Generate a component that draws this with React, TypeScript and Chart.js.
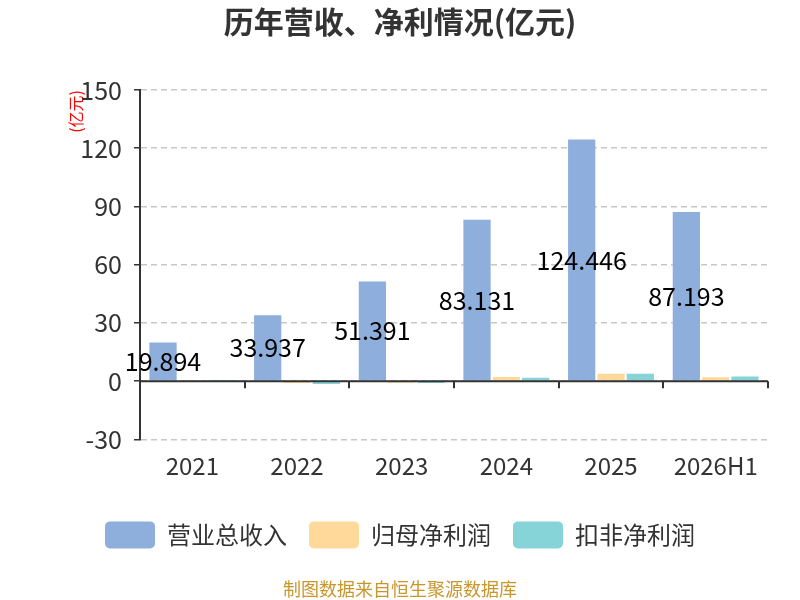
import React, { useEffect, useRef } from 'react';
import { Chart, registerables } from 'chart.js';

Chart.register(...registerables);

const categories = ['2021', '2022', '2023', '2024', '2025', '2026H1'];
const revenue = [19.894, 33.937, 51.391, 83.131, 124.446, 87.193];
const netProfit = [0.2, -1.0, -0.8, 2.2, 3.8, 2.0];
const deductedProfit = [0.6, -1.4, -1.0, 1.7, 3.8, 2.4];
const seriesNames = ['营业总收入', '归母净利润', '扣非净利润'];
const seriesColors = ['#8EAEDB', '#FFD999', '#87D4D8'];
const yMin = -30;
const yMax = 150;
const yStep = 30;

const FONT = '"Noto Sans CJK SC", "Noto Sans", sans-serif';

const zeroAxisPlugin = {
  id: 'zeroAxis',
  afterDatasetsDraw(chart: any) {
    const { ctx, chartArea, scales } = chart;
    const y0 = scales.y.getPixelForValue(0);
    const n = categories.length;
    const band = (chartArea.right - chartArea.left) / n;
    ctx.save();
    ctx.strokeStyle = '#333';
    ctx.lineWidth = 2;
    ctx.beginPath();
    ctx.moveTo(chartArea.left, y0);
    ctx.lineTo(chartArea.right, y0);
    ctx.stroke();
    for (let i = 0; i <= n; i++) {
      const x = Math.round(chartArea.left + band * i);
      ctx.beginPath();
      ctx.moveTo(x, y0);
      ctx.lineTo(x, y0 + 7);
      ctx.stroke();
    }
    ctx.restore();
  },
};

const valueLabelPlugin = {
  id: 'valueLabels',
  afterDatasetsDraw(chart: any) {
    const { ctx } = chart;
    const meta = chart.getDatasetMeta(0);
    ctx.save();
    ctx.fillStyle = '#000';
    ctx.font = `25px ${FONT}`;
    ctx.textAlign = 'center';
    ctx.textBaseline = 'middle';
    meta.data.forEach((el: any, i: number) => {
      const yMid = (el.y + el.base) / 2;
      ctx.fillText(revenue[i].toFixed(3), el.x, yMid);
    });
    ctx.restore();
  },
};

export default function App() {
  const ref = useRef<HTMLCanvasElement>(null);
  useEffect(() => {
    if (!ref.current) return;
    const chart = new Chart(ref.current, {
      type: 'bar',
      data: {
        labels: categories,
        datasets: [
          { label: seriesNames[0], data: revenue, backgroundColor: seriesColors[0] },
          { label: seriesNames[1], data: netProfit, backgroundColor: seriesColors[1] },
          { label: seriesNames[2], data: deductedProfit, backgroundColor: seriesColors[2] },
        ],
      },
      options: {
        animation: false,
        responsive: false,
        maintainAspectRatio: false,
        datasets: { bar: { categoryPercentage: 0.84, barPercentage: 0.93 } },
        layout: { padding: { left: 32, right: 32, top: 0, bottom: 0 } },
        plugins: {
          title: {
            display: true,
            text: '历年营收、净利情况(亿元)',
            color: '#333',
            font: { family: FONT, size: 30, weight: 'bold' },
            padding: { top: 4, bottom: 50 },
          },
          subtitle: {
            display: true,
            position: 'bottom',
            text: '制图数据来自恒生聚源数据库',
            color: '#C9962B',
            font: { family: FONT, size: 18 },
            padding: { top: 20, bottom: 0 },
          },
          legend: {
            position: 'bottom',
            labels: {
              boxWidth: 50,
              boxHeight: 27,
              useBorderRadius: true,
              borderRadius: 5,
              padding: 22,
              color: '#333',
              font: { family: FONT, size: 24 },
            },
          },
          tooltip: { enabled: false },
        },
        scales: {
          x: {
            grid: { display: false, drawTicks: false },
            border: { display: false },
            ticks: { color: '#333', font: { family: FONT, size: 24 }, padding: 12 },
            afterFit(scale: any) {
              scale.height = 60;
            },
          },
          y: {
            min: yMin,
            max: yMax,
            ticks: { stepSize: yStep, color: '#333', font: { family: FONT, size: 25 }, padding: 12 },
            grid: { color: '#C8C8C8', tickColor: '#333', tickLength: 6, tickBorderDash: [], lineWidth: 1.5 },
            border: { display: true, color: '#333', width: 2, dash: [6, 4] },
            title: {
              display: true,
              text: '(亿元)',
              align: 'end',
              color: '#FF0000',
              font: { family: FONT, size: 16 },
              padding: { top: 34, bottom: 0 },
            },
            afterFit(scale: any) {
              scale.width = 108;
            },
          },
        },
      },
      plugins: [zeroAxisPlugin, valueLabelPlugin],
    } as any);
    return () => chart.destroy();
  }, []);
  return (
    <div style={{ position: 'fixed', left: 0, top: 0, width: 800, height: 600, background: '#fff' }}>
      <canvas ref={ref} width={800} height={600} style={{ width: 800, height: 600 }} />
    </div>
  );
}
